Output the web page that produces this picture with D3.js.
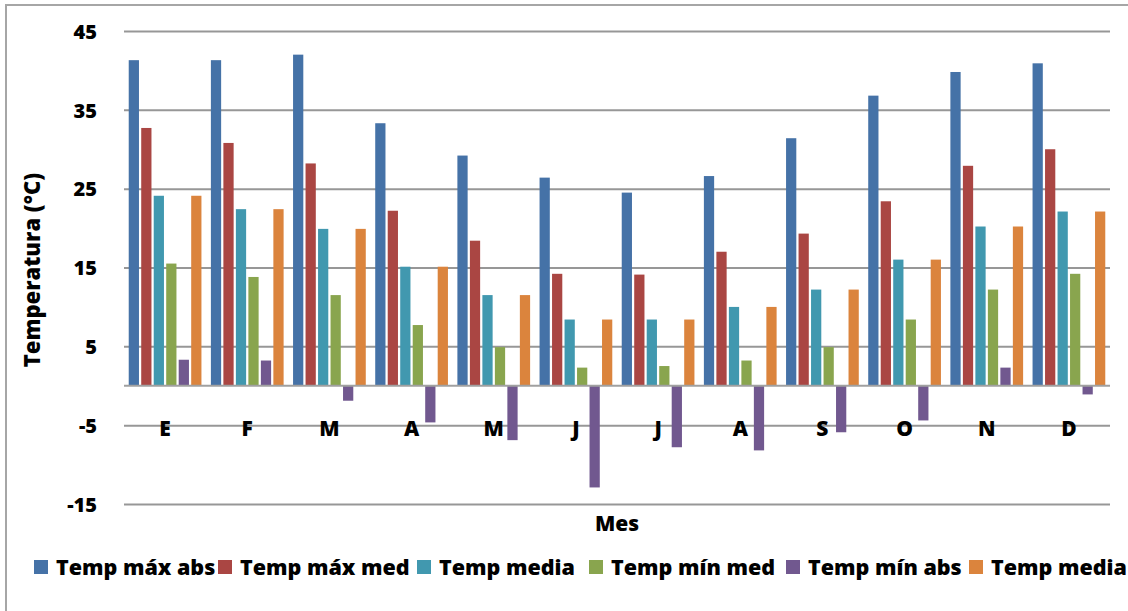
<!DOCTYPE html>
<html>
<head>
<meta charset="utf-8">
<script src="https://cdn.jsdelivr.net/npm/d3@7"></script>
<style>
  html, body { margin: 0; padding: 0; background: #fff; }
  svg { display: block; }
  text { font-family: "Open Sans", Lato, sans-serif; font-weight: 800; fill: #000; }
</style>
</head>
<body>
<svg id="chart" width="1128" height="611"></svg>
<script>
// Monthly temperature summary
const months = ["E", "F", "M", "A", "M", "J", "J", "A", "S", "O", "N", "D"];
const seriesNames = ["Temp máx abs", "Temp máx med", "Temp media", "Temp mín med", "Temp mín abs", "Temp media"];
const seriesColors = ["#4572A7", "#AA4643", "#4198AF", "#89A54E", "#71588F", "#DB843D"];

const tempMaxAbs = [41.3, 41.3, 42.0, 33.3, 29.2, 26.4, 24.5, 26.6, 31.4, 36.8, 39.8, 40.9];
const tempMaxMed = [32.7, 30.8, 28.2, 22.2, 18.4, 14.2, 14.1, 17.0, 19.3, 23.4, 27.9, 30.0];
const tempMedia  = [24.1, 22.4, 19.9, 15.1, 11.5, 8.4, 8.4, 10.0, 12.2, 16.0, 20.2, 22.1];
const tempMinMed = [15.5, 13.8, 11.5, 7.7, 4.9, 2.3, 2.5, 3.2, 4.9, 8.4, 12.2, 14.2];
const tempMinAbs = [3.3, 3.2, -1.9, -4.65, -6.9, -12.9, -7.8, -8.2, -5.9, -4.4, 2.3, -1.1];
const tempMedia2 = [24.1, 22.4, 19.9, 15.1, 11.5, 8.4, 8.4, 10.0, 12.2, 16.0, 20.2, 22.1];

const yTicks = [-15, -5, 5, 15, 25, 35, 45];

const seriesValues = [tempMaxAbs, tempMaxMed, tempMedia, tempMinMed, tempMinAbs, tempMedia2];

const svg = d3.select("#chart");
const plot = { left: 124, right: 1110, top: 31, bottom: 504 };

// outer chart frame
svg.append("rect")
  .attr("x", 6).attr("y", 5)
  .attr("width", 1140).attr("height", 640)
  .attr("fill", "none")
  .attr("stroke", "#a6a6a6")
  .attr("stroke-width", 2);

const y = d3.scaleLinear().domain([-15, 45]).range([plot.bottom, plot.top]);
const x0 = d3.scaleBand()
  .domain(d3.range(months.length))
  .range([plot.left, plot.right])
  .paddingInner(0.115)
  .paddingOuter(0.0575);
const x1 = d3.scaleBand()
  .domain(d3.range(seriesNames.length))
  .range([0, x0.bandwidth()])
  .paddingInner(0.18)
  .paddingOuter(0);

// horizontal gridlines with value labels
const yAxis = d3.axisLeft(y)
  .tickValues(yTicks)
  .tickFormat(d => String(d))
  .tickSize(-(plot.right - plot.left))
  .tickPadding(27);
const gy = svg.append("g").attr("transform", `translate(${plot.left},0)`).call(yAxis);
gy.select(".domain").remove();
gy.selectAll(".tick line").attr("stroke", "#979797").attr("stroke-width", 2);
gy.selectAll(".tick text")
  .attr("font-size", 20)
  .attr("font-family", "'Open Sans', sans-serif")
  .attr("font-weight", 800)
  .attr("fill", "#000")
  .attr("dy", "0.36em");

// bars
const groups = svg.append("g").selectAll("g")
  .data(months.map((m, i) => i))
  .join("g")
  .attr("transform", i => `translate(${x0(i)},0)`);

groups.selectAll("rect")
  .data(i => seriesValues.map((vals, s) => ({ s, v: vals[i] })))
  .join("rect")
  .attr("x", d => x1(d.s))
  .attr("width", x1.bandwidth())
  .attr("y", d => y(Math.max(0, d.v)))
  .attr("height", d => Math.abs(y(d.v) - y(0)))
  .attr("fill", d => seriesColors[d.s]);

// zero baseline
svg.append("line")
  .attr("x1", plot.left).attr("x2", plot.right)
  .attr("y1", y(0)).attr("y2", y(0))
  .attr("stroke", "#a0a0a0").attr("stroke-width", 2);

// category labels
const xAxis = d3.axisBottom(x0).tickFormat(i => months[i]).tickSize(0).tickPadding(0);
const gx = svg.append("g").attr("transform", `translate(0,${y(-5) + 3})`).call(xAxis);
gx.select(".domain").remove();
gx.selectAll(".tick text")
  .attr("font-size", 21)
  .attr("font-family", "'Open Sans', sans-serif")
  .attr("font-weight", 800)
  .attr("fill", "#000")
  .attr("dy", "0.36em");

// axis titles
svg.append("text")
  .attr("x", (plot.left + plot.right) / 2)
  .attr("y", 531)
  .attr("text-anchor", "middle")
  .attr("font-size", 21)
  .text("Mes");

svg.append("text")
  .attr("transform", "translate(40,270) rotate(-90)")
  .attr("text-anchor", "middle")
  .attr("font-size", 22)
  .text("Temperatura (°C)");

// legend
const legendX = [34, 218, 417, 589, 786, 969];
const legend = svg.append("g").selectAll("g")
  .data(seriesNames.map((n, i) => i))
  .join("g")
  .attr("transform", i => `translate(${legendX[i]},567)`);
legend.append("rect")
  .attr("x", 0).attr("y", -7)
  .attr("width", 14).attr("height", 14)
  .attr("fill", i => seriesColors[i]);
legend.append("text")
  .attr("x", 22).attr("y", 0)
  .attr("dy", "0.36em")
  .attr("font-size", 21.5)
  .text(i => seriesNames[i]);
</script>
</body>
</html>
